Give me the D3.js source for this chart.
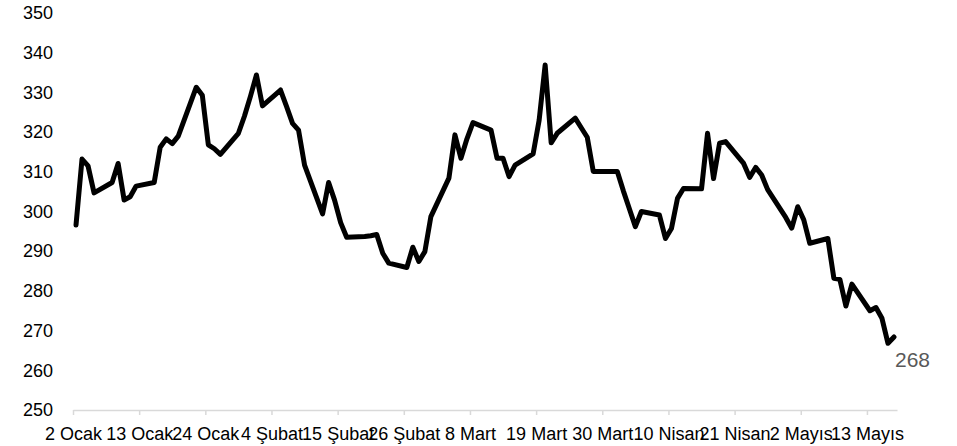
<!DOCTYPE html>
<html>
<head>
<meta charset="utf-8">
<script src="https://cdn.jsdelivr.net/npm/d3@7"></script>
<style>
    body { margin: 0; background: #fff; }
    svg { display: block; font-family: 'Liberation Sans', Arial, sans-serif; }
    .xAxis .domain, .xAxis .tick line { stroke: #d9d9d9; stroke-width: 1.5; }
    .xAxis text, .yAxis text { font-size: 18px; fill: #000; }
    .series { fill: none; stroke: #000; stroke-width: 5; stroke-linejoin: round; stroke-linecap: round; }
    #lastLabel { font-size: 21px; fill: #595959; }
</style>
</head>
<body>
<script>
'use strict';

// business days, 2024
const dates = [
    '2024-01-02', '2024-01-03', '2024-01-04', '2024-01-05',
    '2024-01-08', '2024-01-09', '2024-01-10', '2024-01-11', '2024-01-12',
    '2024-01-15', '2024-01-16', '2024-01-17', '2024-01-18', '2024-01-19',
    '2024-01-22', '2024-01-23', '2024-01-24', '2024-01-25', '2024-01-26',
    '2024-01-29', '2024-01-30', '2024-01-31', '2024-02-01', '2024-02-02',
    '2024-02-05', '2024-02-06', '2024-02-07', '2024-02-08', '2024-02-09',
    '2024-02-12', '2024-02-13', '2024-02-14', '2024-02-15', '2024-02-16',
    '2024-02-19', '2024-02-20', '2024-02-21', '2024-02-22', '2024-02-23',
    '2024-02-26', '2024-02-27', '2024-02-28', '2024-02-29', '2024-03-01',
    '2024-03-04', '2024-03-05', '2024-03-06', '2024-03-07', '2024-03-08',
    '2024-03-11', '2024-03-12', '2024-03-13', '2024-03-14', '2024-03-15',
    '2024-03-18', '2024-03-19', '2024-03-20', '2024-03-21', '2024-03-22',
    '2024-03-25', '2024-03-26', '2024-03-27', '2024-03-28', '2024-03-29',
    '2024-04-01', '2024-04-02', '2024-04-03', '2024-04-04', '2024-04-05',
    '2024-04-08', '2024-04-09', '2024-04-10', '2024-04-11', '2024-04-12',
    '2024-04-15', '2024-04-16', '2024-04-17', '2024-04-18', '2024-04-19',
    '2024-04-22', '2024-04-23', '2024-04-24', '2024-04-25', '2024-04-26',
    '2024-04-29', '2024-04-30', '2024-05-01', '2024-05-02', '2024-05-03',
    '2024-05-06', '2024-05-07', '2024-05-08', '2024-05-09', '2024-05-10',
    '2024-05-13', '2024-05-14', '2024-05-15', '2024-05-16', '2024-05-17'
];

const values = [
    296.6, 313.2, 311.5, 304.7,
    307.3, 312.1, 302.9, 303.7, 306.4,
    307.3, 316.2, 318.3, 317.1, 319.0,
    331.3, 329.3, 316.8, 315.8, 314.4,
    319.7, 324.0, 329.0, 334.4, 326.6,
    330.6, 326.5, 322.2, 320.5, 311.7,
    299.4, 307.3, 302.8, 297.2, 293.5,
    293.7, 293.9, 294.2, 289.5, 287.0,
    285.9, 291.0, 287.4, 289.9, 298.7,
    308.4, 319.3, 313.4, 318.3, 322.4,
    320.5, 313.4, 313.4, 308.8, 311.7,
    314.5, 323.0, 336.9, 317.3, 319.7,
    323.5, 321.1, 318.7, 310.1, 310.1,
    310.1, 305.2, 300.7, 296.2, 300.0,
    299.1, 293.2, 295.7, 303.3, 305.8,
    305.7, 319.7, 308.3, 317.2, 317.6,
    312.1, 308.6, 311.1, 309.2, 305.5,
    298.5, 295.8, 301.2, 297.9, 292.0,
    293.2, 283.2, 282.9, 276.2, 281.7,
    275.0, 275.8, 273.1, 266.8, 268.4
];

const xTickDates = [
    '2024-01-02', '2024-01-13', '2024-01-24', '2024-02-04', '2024-02-15',
    '2024-02-26', '2024-03-08', '2024-03-19', '2024-03-30', '2024-04-10',
    '2024-04-21', '2024-05-02', '2024-05-13'
];
const xTickLabels = [
    '2 Ocak', '13 Ocak', '24 Ocak', '4 Şubat', '15 Şubat',
    '26 Şubat', '8 Mart', '19 Mart', '30 Mart', '10 Nisan',
    '21 Nisan', '2 Mayıs', '13 Mayıs'
];
const yTicks = [250, 260, 270, 280, 290, 300, 310, 320, 330, 340, 350];
const axisStart = '2024-01-02';
const axisEnd = '2024-05-18';

(function () {

    const parse = d3.timeParse('%Y-%m-%d');

    function getPlotArea() {
        return {
            width: 957,
            height: 446,
            left: 73,
            right: 897,
            top: 13,
            bottom: 410
        };
    }

    function makeScales(plot) {
        return {
            x: d3.scaleTime()
                .domain([parse(axisStart), parse(axisEnd)])
                .range([plot.left, plot.right]),
            y: d3.scaleLinear()
                .domain([yTicks[0], yTicks[yTicks.length - 1]])
                .range([plot.bottom, plot.top])
        };
    }

    /**
     * Points sit in the middle of their day, like a date axis in a spreadsheet.
     */
    function midDay(s) {
        return d3.timeHour.offset(parse(s), 12);
    }

    function appendXAxis(svg, scales, plot) {
        const axis = d3.axisBottom(scales.x)
            .tickValues(xTickDates.map(parse))
            .tickFormat((d, i) => xTickLabels[i])
            .tickSizeInner(5)
            .tickSizeOuter(0)
            .tickPadding(12);
        svg.append('g')
            .attr('class', 'xAxis')
            .attr('transform', 'translate(0,' + plot.bottom + ')')
            .call(axis);
    }

    function appendYAxis(svg, scales, plot) {
        const axis = d3.axisLeft(scales.y)
            .tickValues(yTicks)
            .tickSize(0)
            .tickPadding(20);
        const g = svg.append('g')
            .attr('class', 'yAxis')
            .attr('transform', 'translate(' + plot.left + ',0)')
            .call(axis);
        g.select('.domain').remove();
    }

    function appendLine(svg, scales) {
        const data = dates.map((d, i) => ({ date: midDay(d), value: values[i] }));
        const line = d3.line()
            .x(d => scales.x(d.date))
            .y(d => scales.y(d.value));
        svg.append('path')
            .datum(data)
            .attr('class', 'series')
            .attr('d', line);
    }

    /**
     * The last value is written under the end of the line.
     */
    function appendLastLabel(svg, scales) {
        const i = values.length - 1;
        svg.append('text')
            .attr('id', 'lastLabel')
            .attr('x', scales.x(midDay(dates[i])) + 1)
            .attr('y', scales.y(values[i]) + 30)
            .text(Math.round(values[i]));
    }

    function draw() {
        const plot = getPlotArea();
        const svg = d3.select('body').append('svg')
            .attr('width', plot.width)
            .attr('height', plot.height);
        const scales = makeScales(plot);
        appendXAxis(svg, scales, plot);
        appendYAxis(svg, scales, plot);
        appendLine(svg, scales);
        appendLastLabel(svg, scales);
    }

    draw();

})();
</script>
</body>
</html>
